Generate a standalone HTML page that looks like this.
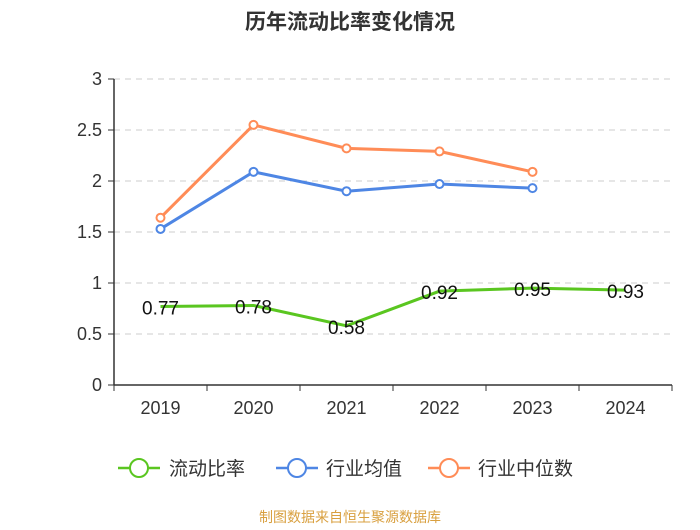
<!DOCTYPE html>
<html><head><meta charset="utf-8"><style>
body{margin:0;background:#fff;width:700px;height:525px;overflow:hidden}
svg{font-family:"Liberation Sans","Noto Sans CJK SC",sans-serif}
</style></head><body>
<svg id="chart" width="700" height="525">
<text x="350" y="29" text-anchor="middle" font-size="21" font-weight="bold" fill="#333">历年流动比率变化情况</text>
<g id="grid"></g><g id="axes"></g><g id="series"></g>
<g>
<g><line x1="118" y1="468" x2="160" y2="468" stroke="#5ac620" stroke-width="2.5"/><circle cx="139" cy="468" r="9" fill="#fff" stroke="#5ac620" stroke-width="2"/><text x="169" y="475" font-size="19" fill="#333">流动比率</text></g>
<g><line x1="276" y1="468" x2="318" y2="468" stroke="#4e86e4" stroke-width="2.5"/><circle cx="297" cy="468" r="9" fill="#fff" stroke="#4e86e4" stroke-width="2"/><text x="326" y="475" font-size="19" fill="#333">行业均值</text></g>
<g><line x1="428" y1="468" x2="470" y2="468" stroke="#ff8c57" stroke-width="2.5"/><circle cx="449" cy="468" r="9" fill="#fff" stroke="#ff8c57" stroke-width="2"/><text x="478" y="475" font-size="19" fill="#333">行业中位数</text></g>
</g>
<text x="350" y="522" text-anchor="middle" font-size="14" fill="#d9a040">制图数据来自恒生聚源数据库</text>
</svg>
<script>
const categories=["2019","2020","2021","2022","2023","2024"];
const currentRatio=[0.77,0.78,0.58,0.92,0.95,0.93];
const industryAvg=[1.53,2.09,1.90,1.97,1.93];
const industryMedian=[1.64,2.55,2.32,2.29,2.09];
const yTicks=[0,0.5,1,1.5,2,2.5,3];
const NS="http://www.w3.org/2000/svg";
const x0=114,x1=672,y0=385,yTop=79;
const bw=(x1-x0)/categories.length;
const xs=i=>x0+bw*(i+0.5);
const ys=v=>y0-(v/3)*(y0-yTop);
function mk(t,a,p){const e=document.createElementNS(NS,t);for(const k in a)e.setAttribute(k,a[k]);p.appendChild(e);return e;}
const grid=document.getElementById('grid'),axes=document.getElementById('axes'),ser=document.getElementById('series');
yTicks.forEach(v=>{
 if(v>0){const g=mk('line',{x1:x0,x2:x1,y1:ys(v),y2:ys(v),stroke:'#ccc','stroke-dasharray':'6,5'},grid);
 
 }
 const t=mk('line',{x1:x0-6,x2:x0,y1:ys(v),y2:ys(v),stroke:'#333'},axes);
 
 
 const l=mk('text',{x:x0-12,y:ys(v)+6,'text-anchor':'end','font-size':'18',fill:'#333'},axes);l.textContent=v;
 
 
});
const ya=mk('line',{x1:x0,x2:x0,y1:yTop,y2:y0,stroke:'#333','stroke-width':1.5},axes);


const xa=mk('line',{x1:x0,x2:x1,y1:y0,y2:y0,stroke:'#333','stroke-width':1.5},axes);


for(let i=0;i<=categories.length;i++){const t=mk('line',{x1:x0+bw*i,x2:x0+bw*i,y1:y0,y2:y0+6,stroke:'#333'},axes);
 
 }
categories.forEach((c,i)=>{const l=mk('text',{x:xs(i),y:y0+29,'text-anchor':'middle','font-size':'18',fill:'#333'},axes);l.textContent=c;
 
 });
function line(vals,color,name,labels){
 const p=mk('polyline',{points:vals.map((v,i)=>xs(i)+','+ys(v)).join(' '),fill:'none',stroke:color,'stroke-width':3},ser);
 
 
 vals.forEach((v,i)=>{
  if(!labels){const c=mk('circle',{cx:xs(i),cy:ys(v),r:4,fill:'#fff',stroke:color,'stroke-width':2},ser);
  
  }
  else{const t=mk('text',{x:xs(i),y:ys(v)+8,'text-anchor':'middle','font-size':'19',fill:'#111'},ser);t.textContent=v.toFixed(2);
  
  }
 });
}
line(industryMedian,'#ff8c57','industry-median',false);
line(industryAvg,'#4e86e4','industry-average',false);
line(currentRatio,'#5ac620','current-ratio',true);
</script>
</body></html>
